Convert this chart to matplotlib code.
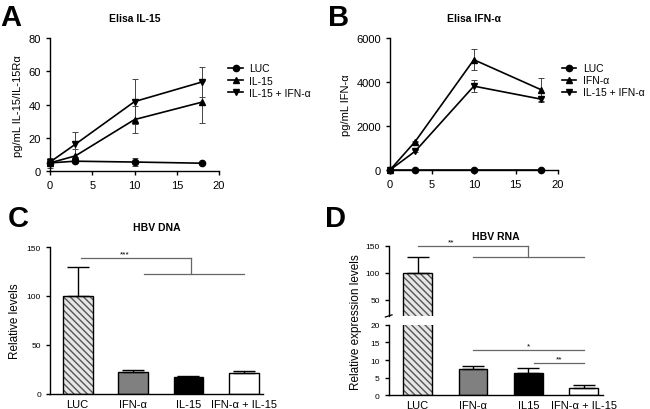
import numpy as np
import matplotlib.pyplot as plt

plt.rcParams['font.family'] = ['Liberation Sans', 'DejaVu Sans']

# ELISA time course (hours)
hours = [0, 3, 10, 18]

il15_luc = [5.0, 6.0, 5.5, 4.8]
il15_luc_err = [3.0, 0.5, 2.5, 0.4]
il15_il15 = [5.0, 9.2, 31.0, 41.5]
il15_il15_err = [0.8, 4.0, 8.0, 12.5]
il15_both = [5.5, 16.2, 41.8, 53.6]
il15_both_err = [0.8, 7.5, 13.5, 9.0]

ifn_luc = [0, 0, 0, 0]
ifn_ifn = [0, 1290, 5010, 3650]
ifn_ifn_err = [0, 40, 480, 540]
ifn_both = [0, 850, 3810, 3220]
ifn_both_err = [0, 40, 280, 90]

# HBV DNA / RNA
dna_labels = ['LUC', 'IFN-α', 'IL-15', 'IFN-α + IL-15']
dna_vals = [100, 22, 17, 21]
dna_err = [30, 2, 1, 2]

rna_labels = ['LUC', 'IFN-α', 'IL15', 'IFN-α + IL-15']
rna_vals = [100, 7.3, 6.4, 2.1]
rna_err = [30, 1.1, 1.4, 0.7]

bar_colors = ['#d8d8d8', '#808080', '#000000', '#ffffff']

fig = plt.figure(figsize=(6.5, 4.1), dpi=100)


def style(ax, fs=8):
    for s in ['top', 'right']:
        ax.spines[s].set_visible(False)
    for s in ['left', 'bottom']:
        ax.spines[s].set_linewidth(1.0)
    ax.tick_params(direction='out', length=3, width=1, labelsize=fs)


def line_panel(ax, series, ylim, yticks, ylabel, title, anchor):
    for y, e, m, lab in series:
        if e is not None:
            ax.errorbar(hours, y, yerr=e, fmt='none', ecolor='#444444',
                        elinewidth=0.7, capsize=2.5, capthick=0.7, clip_on=False)
        ax.plot(hours, y, color='black', marker=m, ms=4.5, lw=1.2,
                label=lab, clip_on=False, zorder=3)
    ax.set_xlim(0, 20)
    ax.set_xticks([0, 5, 10, 15, 20])
    ax.set_ylim(*ylim)
    ax.set_yticks(yticks)
    ax.set_ylabel(ylabel, fontsize=8)
    ax.set_title(title, fontsize=7.5, fontweight='bold', pad=12)
    style(ax)
    ax.legend(loc='upper left', bbox_to_anchor=anchor, frameon=False,
              fontsize=7.5, handlelength=1.4, handletextpad=0.6,
              labelspacing=0.2, borderaxespad=0)


axA = fig.add_axes([0.077, 0.580, 0.26, 0.325])
line_panel(axA, [(il15_luc, il15_luc_err, 'o', 'LUC'),
                 (il15_il15, il15_il15_err, '^', 'IL-15'),
                 (il15_both, il15_both_err, 'v', 'IL-15 + IFN-α')],
           (0, 80), [0, 20, 40, 60, 80], 'pg/mL IL-15/IL-15Rα', 'Elisa IL-15',
           (1.03, 0.84))

axB = fig.add_axes([0.600, 0.583, 0.258, 0.322])
line_panel(axB, [(ifn_luc, None, 'o', 'LUC'),
                 (ifn_ifn, ifn_ifn_err, '^', 'IFN-α'),
                 (ifn_both, ifn_both_err, 'v', 'IL-15 + IFN-α')],
           (0, 6000), [0, 2000, 4000, 6000], 'pg/mL IFN-α', 'Elisa IFN-α',
           (1.0, 0.84))


def bars(ax, vals, errs, width):
    x = np.arange(len(vals))
    # hatch layer for LUC
    ax.bar(x[0], vals[0], width, color='#e6e6e6', edgecolor='#555555',
           hatch='\\\\\\\\\\', linewidth=0)
    ax.bar(x[1:], vals[1:], width, color=bar_colors[1:], linewidth=0)
    ax.bar(x, vals, width, fill=False, edgecolor='black', linewidth=1.0)
    ax.errorbar(x, vals, yerr=[np.zeros(len(errs)), errs], fmt='none',
                ecolor='black', elinewidth=1.0, capsize=8, capthick=1.0)
    return x


# Panel C
axC = fig.add_axes([0.077, 0.037, 0.328, 0.358])
x = bars(axC, dna_vals, dna_err, 0.54)
axC.set_xlim(-0.5, 3.35)
axC.set_ylim(0, 150)
axC.set_yticks([0, 50, 100, 150])
axC.set_xticks(x)
axC.set_xticklabels(dna_labels, fontsize=8)
axC.set_ylabel('Relative levels', fontsize=8.5)
axC.set_title('HBV DNA', fontsize=7.5, fontweight='bold', pad=12)
style(axC, fs=6)
axC.tick_params(axis='x', length=0, labelsize=8)
gc = '#666666'
axC.plot([0.05, 2.05], [139, 139], color=gc, lw=0.9, clip_on=False)
axC.plot([2.05, 2.05], [139, 122], color=gc, lw=0.9, clip_on=False)
axC.plot([1.2, 3.0], [122, 122], color=gc, lw=0.9, clip_on=False)
axC.text(0.85, 139, '***', ha='center', va='bottom', fontsize=6)

# Panel D with broken axis
axDt = fig.add_axes([0.598, 0.227, 0.329, 0.171])
axDb = fig.add_axes([0.598, 0.034, 0.329, 0.171])
for ax in (axDt, axDb):
    bars(ax, rna_vals, rna_err, 0.52)
    ax.set_xlim(-0.52, 3.34)
    style(ax, fs=6)
axDt.set_ylim(20, 150)
axDt.set_yticks([50, 100, 150])
axDt.spines['bottom'].set_visible(False)
axDt.set_xticks([])
axDt.set_title('HBV RNA', fontsize=7.5, fontweight='bold', pad=5)
axDb.set_ylim(0, 20)
axDb.set_yticks([0, 5, 10, 15, 20])
axDb.set_xticks(np.arange(4))
axDb.set_xticklabels(rna_labels)
axDb.tick_params(axis='x', length=0, labelsize=8)
fig.text(0.548, 0.215, 'Relative expression levels', rotation=90,
         ha='center', va='center', fontsize=8.5)
# break marks
axDt.plot([-0.58, -0.46], [18, 22], color='black', lw=0.9, clip_on=False)

axDt.plot([0.0, 2.0], [150, 150], color=gc, lw=0.9, clip_on=False)
axDt.plot([2.0, 2.0], [150, 130], color=gc, lw=0.9, clip_on=False)
axDt.plot([1.0, 3.0], [130, 130], color=gc, lw=0.9, clip_on=False)
axDt.text(0.6, 150, '**', ha='center', va='bottom', fontsize=6)
axDb.plot([1.0, 3.0], [12.9, 12.9], color=gc, lw=0.9)
axDb.text(2.0, 12.9, '*', ha='center', va='bottom', fontsize=6)
axDb.plot([2.1, 3.0], [9.2, 9.2], color=gc, lw=0.9)
axDb.text(2.55, 9.2, '**', ha='center', va='bottom', fontsize=6)

# panel letters
for lx, ly, s in [(0.0, 0.99, 'A'), (0.505, 0.99, 'B'), (0.012, 0.5, 'C'), (0.5, 0.5, 'D')]:
    fig.text(lx, ly, s, fontsize=21, fontweight='bold', va='top', ha='left')

fig.savefig('out.png', dpi=100)
